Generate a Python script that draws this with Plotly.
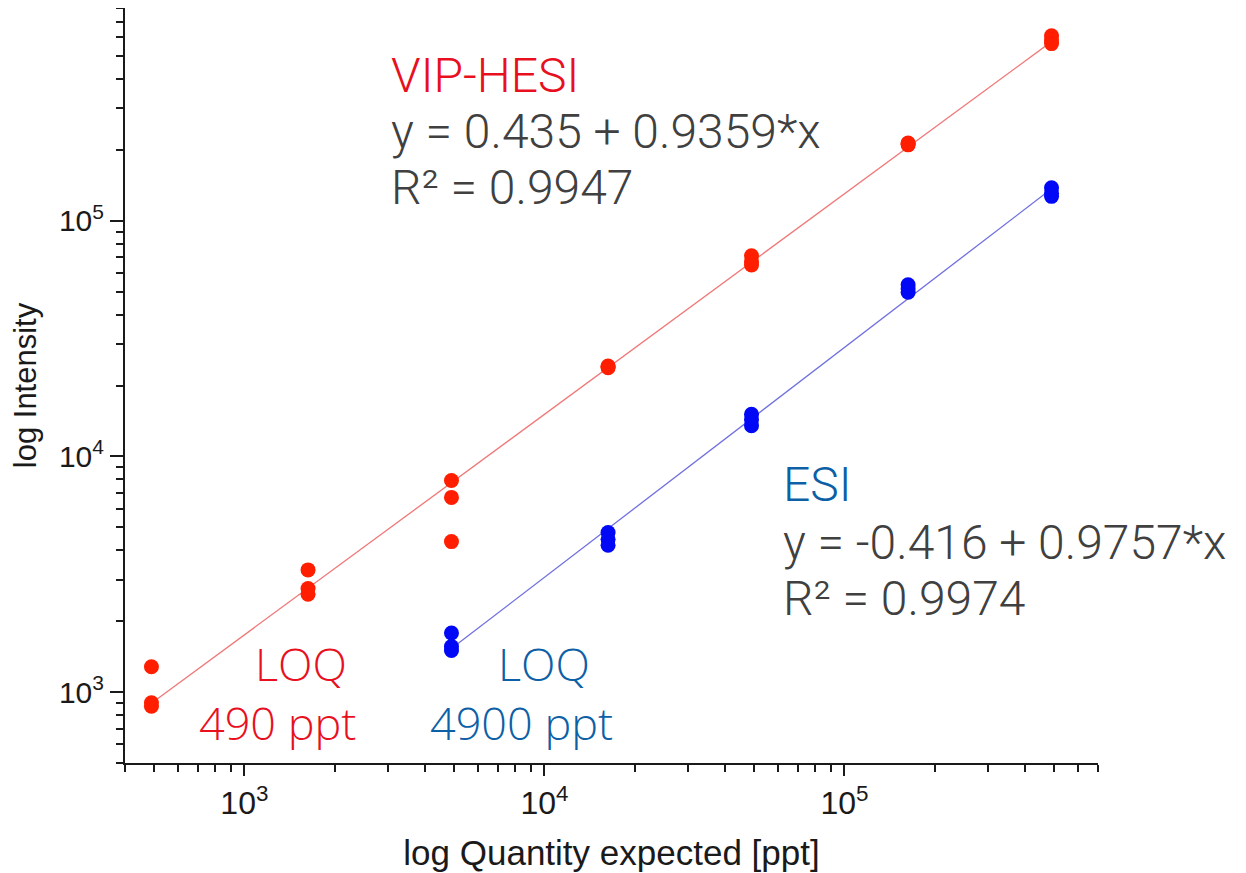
import numpy as np
import plotly.graph_objects as go

# ---------------- data ----------------
qty_red = [490, 490, 490, 1630, 1630, 1630, 4900, 4900, 4900,
           16300, 16300, 16300, 49000, 49000, 49000,
           163000, 163000, 163000, 490000, 490000, 490000]
int_red = [1280, 900, 870, 3300, 2750, 2600, 7900, 6700, 4350,
           24200, 24000, 23800, 71000, 67000, 65000,
           214000, 212000, 210000, 610000, 585000, 565000]

qty_blue = [4900, 4900, 4900, 16300, 16300, 16300, 49000, 49000, 49000,
            163000, 163000, 163000, 490000, 490000, 490000]
int_blue = [1780, 1560, 1500, 4750, 4450, 4200, 15100, 14300, 13500,
            53500, 51500, 49800, 138000, 131000, 127000]

# regression (log10 space) coefficients as printed on the chart
fit_red = (0.435, 0.9359)
fit_blue = (-0.416, 0.9757)
fit_red_span = [490, 490000]
fit_blue_span = [4900, 490000]

x_tickvals = [1e3, 1e4, 1e5]
x_ticktext = ["10<sup>3</sup>", "10<sup>4</sup>", "10<sup>5</sup>"]
y_tickvals = [1e3, 1e4, 1e5]
y_ticktext = ["10<sup>3</sup>", "10<sup>4</sup>", "10<sup>5</sup>"]

x_range = [400, 700000]
y_range = [500, 800000]


def fit_line(coef, span):
    a, b = coef
    xs = np.array(span, dtype=float)
    return xs, 10 ** (a + b * np.log10(xs))


def minor_vals(lo, hi):
    vals = []
    for e in range(1, 7):
        for m in range(2, 10):
            v = m * 10 ** e
            if lo <= v <= hi:
                vals.append(v)
    return vals


RED = "#ff1e00"
BLUE = "#0008f5"
TXT_RED = "#e8101e"
TXT_BLUE = "#0d5fa6"
TXT_GRAY = "#404040"
AX = "#1a1a1a"

fig = go.Figure()

xr, yr = fit_line(fit_red, fit_red_span)
xb, yb = fit_line(fit_blue, fit_blue_span)
fig.add_trace(go.Scatter(x=xr, y=yr, mode="lines",
                         line=dict(color="#f07878", width=1.3), showlegend=False))
fig.add_trace(go.Scatter(x=xb, y=yb, mode="lines",
                         line=dict(color="#7070e0", width=1.3), showlegend=False))
fig.add_trace(go.Scatter(x=qty_red, y=int_red, mode="markers",
                         marker=dict(color=RED, size=15, line=dict(width=0)),
                         showlegend=False))
fig.add_trace(go.Scatter(x=qty_blue, y=int_blue, mode="markers",
                         marker=dict(color=BLUE, size=15, line=dict(width=0)),
                         showlegend=False))

FONT = "Liberation Sans, Arial, sans-serif"
axis_common = dict(
    type="log", showgrid=False, zeroline=False, showline=True,
    linecolor=AX, linewidth=2, ticks="outside", tickcolor=AX,
    tickwidth=2, tickmode="array",
)

fig.update_xaxes(
    **axis_common,
    range=[np.log10(x_range[0]), np.log10(x_range[1])],
    tickvals=x_tickvals, ticktext=x_ticktext, ticklen=11,
    tickfont=dict(family=FONT, size=32, color=AX),
    minor=dict(ticks="outside", ticklen=7, tickwidth=2, tickcolor=AX,
               tickmode="array", tickvals=minor_vals(*x_range), showgrid=False),
    title=dict(text="log Quantity expected [ppt]", standoff=20,
               font=dict(family=FONT, size=35, color=AX)),
)
fig.update_yaxes(
    **axis_common,
    range=[np.log10(y_range[0]), np.log10(y_range[1])],
    tickvals=y_tickvals, ticktext=y_ticktext, ticklen=13,
    tickfont=dict(family=FONT, size=30, color=AX),
    minor=dict(ticks="outside", ticklen=7, tickwidth=2, tickcolor=AX,
               tickmode="array", tickvals=minor_vals(*y_range), showgrid=False),
    title=dict(text="log Intensity", standoff=20,
               font=dict(family=FONT, size=31, color=AX)),
)

# page has an 8px body margin; plot area in page pixels: x 125..1098.5, y 7.3..763
OFF = 8
X0, X1, Y0, Y1 = 125, 1098.5, 7.3, 763
W, H = 1238, 865
L, T = X0 - OFF, 0
R = W - (X1 - OFF)
B = H - (Y1 - OFF)
pw, ph = X1 - X0, Y1 - Y0


def px(xp):
    return (xp - X0) / pw


def py(yp):
    return (Y1 - yp) / ph


eq_font = dict(family="Roboto, sans-serif", size=48, weight=300)
loq_font = dict(family="Open Sans, sans-serif", size=45, weight=300)

ann = [
    ("VIP-HESI", 389, 75, TXT_RED, "left", eq_font),
    ("y = 0.435 + 0.9359*x", 389, 131, TXT_GRAY, "left", eq_font),
    ("R² = 0.9947", 389, 187, TXT_GRAY, "left", eq_font),
    ("ESI", 781, 484, TXT_BLUE, "left", eq_font),
    ("y = -0.416 + 0.9757*x", 781, 542, TXT_GRAY, "left", eq_font),
    ("R² = 0.9974", 781, 598, TXT_GRAY, "left", eq_font),
    ("LOQ", 301, 663, TXT_RED, "center", loq_font),
    ("490 ppt", 278, 722, TXT_RED, "center", loq_font),
    ("LOQ", 544, 663, TXT_BLUE, "center", loq_font),
    ("4900 ppt", 522, 722, TXT_BLUE, "center", loq_font),
]
for text, xp, yp, col, anchor, f in ann:
    fig.add_annotation(text=text, xref="paper", yref="paper", x=px(xp), y=py(yp),
                       xanchor=anchor, yanchor="middle", showarrow=False,
                       font=dict(color=col, **f))

fig.update_layout(
    width=W, height=H,
    margin=dict(l=L, r=R, t=T, b=B, autoexpand=False),
    plot_bgcolor="white", paper_bgcolor="white",
)

fig.write_html("out.html")
